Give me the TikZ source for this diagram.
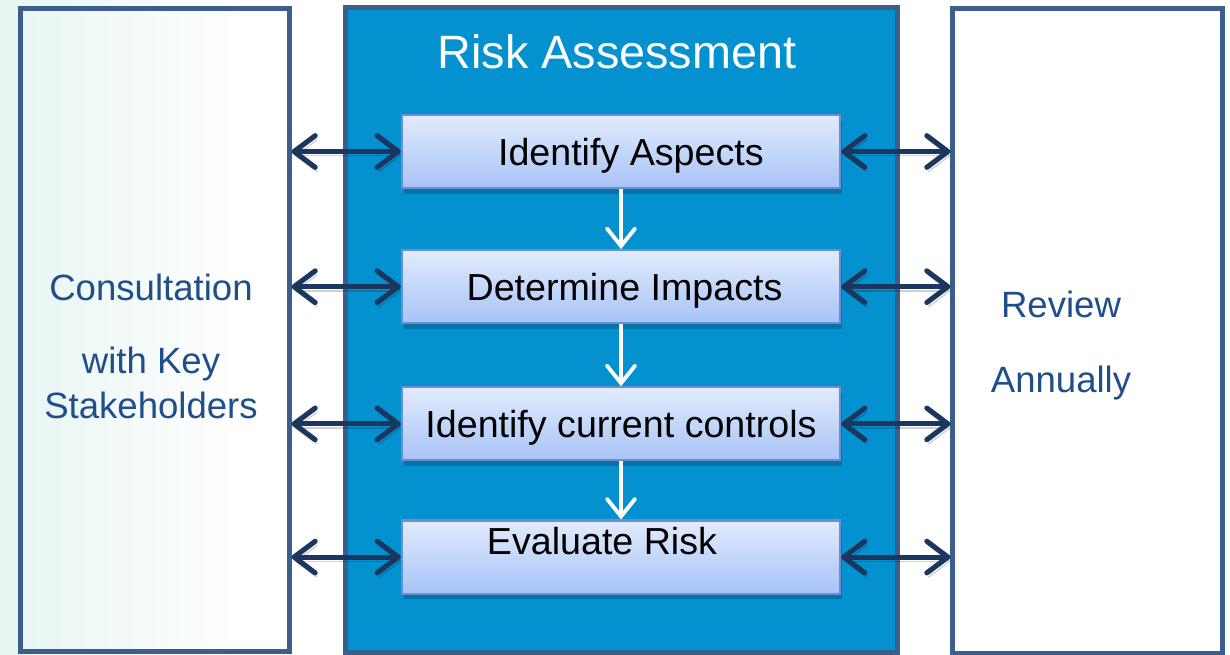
\documentclass[tikz,border=0pt]{standalone}
\usepackage{fontspec}
\setmainfont{Liberation Sans}
\usetikzlibrary{positioning, arrows.meta}
\definecolor{frameblue}{HTML}{3B5E8C}
\definecolor{panelblue}{HTML}{0391CF}
\definecolor{boxtop}{HTML}{E2EBFD}
\definecolor{boxbottom}{HTML}{A7C3F7}
\definecolor{boxedge}{HTML}{6C8ED2}
\definecolor{linknavy}{HTML}{1B365F}
\definecolor{sidetext}{HTML}{1F4E8A}
\definecolor{mint}{HTML}{E6F5F2}
\tikzset{
    frame/.style={draw=frameblue, line width=1.4pt, inner sep=0pt}, % the three tall boxes
    step box/.style={draw=boxedge, line width=0.6pt, top color=boxtop, bottom color=boxbottom,
        minimum width=4.38cm, minimum height=0.73cm, inner sep=0pt, text depth=0pt,
        font=\fontsize{10.7}{12}\selectfont,
        preaction={fill=black, opacity=0.2, transform canvas={shift={(0.5pt,-1.6pt)}}}}, % shadow under each step
    link/.style={linknavy, line width=1.45pt,
        >={Straight Barb[length=6pt, width=9pt, line cap=round, line join=round]}, <->,
        preaction={draw=black, opacity=0.18, transform canvas={shift={(0.5pt,-1.2pt)}}}}, % two-way arrows
    flow/.style={white, line width=1.1pt, -{Straight Barb[length=5pt, width=8pt, line cap=round]}}, % arrows between steps
    side/.style={anchor=base, text=sidetext, font=\fontsize{10.4}{12}\selectfont},
}
\begin{document}
\begin{tikzpicture}[x=0.01cm, y=-0.01cm]
    \useasboundingbox (0,0) rectangle (1230,654);
    \shade[left color=mint, right color=white] (0,0) rectangle (240,654);

    % the three columns
    \node[frame, minimum width=2.68cm, minimum height=6.43cm] (consult) at (155,330) {};
    \node[frame, fill=panelblue, minimum width=5.51cm, minimum height=6.44cm] (panel) at (621.5,330) {};
    \node[frame, minimum width=2.69cm, minimum height=6.44cm] (review) at (1087.5,331) {};

    \node[anchor=base, white, font=\fontsize{13.3}{15}\selectfont] (heading) at (617,68) {Risk Assessment};

    % the steps
    \node[step box] (aspects) at (621,151.5) {\hspace*{5.6pt}Identify Aspects};
    \node[step box, below=0.6cm of aspects] (impacts) {\hspace*{2pt}Determine Impacts};
    \node[step box, below=0.62cm of impacts] (controls) {Identify current controls};
    \node[step box, below=0.58cm of controls, text depth=9.4pt] (evaluate) {\hspace*{-10.8pt}Evaluate Risk};

    \draw[flow] (aspects) -- (impacts);
    \draw[flow] (impacts) -- (controls);
    \draw[flow] (controls) -- (evaluate);

    % two-way links to the side columns
    \foreach \s in {aspects, impacts, controls, evaluate} {
        \draw[link] (consult.east |- \s) -- (\s.west);
        \draw[link] (\s.east) -- (review.west |- \s);
    }

    \node[side] (consult1) at (151,300) {Consultation};
    \node[side] (consult2) at (151,373) {with Key};
    \node[side] (consult3) at (151,418) {Stakeholders};
    \node[side] (review1) at (1061,317) {Review};
    \node[side] (review2) at (1061,392) {Annually};
\end{tikzpicture}
\end{document}
